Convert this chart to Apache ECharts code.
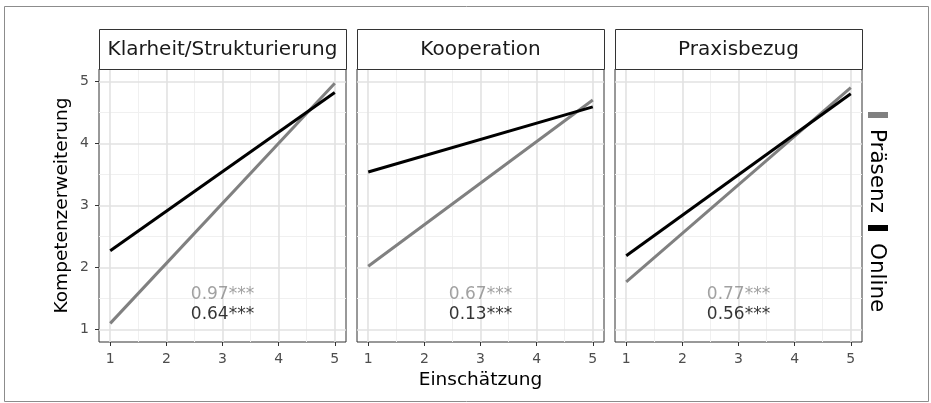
<!DOCTYPE html>
<html>
<head>
<meta charset="utf-8">
<script src="https://cdn.jsdelivr.net/npm/echarts@6/dist/echarts.min.js"></script>
<style>
  html, body { margin: 0; padding: 0; background: #fff; }
  #chart { width: 931px; height: 403px; }
</style>
</head>
<body>
<div id="chart"></div>
<script>
// ---- data ----
const categories = ['Klarheit/Strukturierung', 'Kooperation', 'Praxisbezug'];
const groups = ['Präsenz', 'Online'];
const xEnds = [1, 5];
const praesenzY = [[1.10, 4.97], [2.02, 4.70], [1.77, 4.90]];
const onlineY = [[2.27, 4.82], [3.54, 4.59], [2.19, 4.80]];
const praesenzCoef = ['0.97***', '0.67***', '0.77***'];
const onlineCoef = ['0.64***', '0.13***', '0.56***'];
const xTicks = [1, 2, 3, 4, 5];
const yTicks = [1, 2, 3, 4, 5];
const minorTicks = [1.5, 2.5, 3.5, 4.5];
const xTitle = 'Einschätzung';
const yTitle = 'Kompetenzerweiterung';

// ---- layout / style ----
const FONT = 'DejaVu Sans';
const GRAY = '#808080';
const panelLeft = [99, 357, 615];
const panelW = 247, panelTop = 69, panelH = 273;
const stripTop = 29, stripH = 40;

const grids = [], xAxes = [], yAxes = [], series = [], graphics = [];

categories.forEach((cat, i) => {
  grids.push({
    left: panelLeft[i], top: panelTop, width: panelW, height: panelH,
    show: true, borderColor: '#333', borderWidth: 1, backgroundColor: '#fff'
  });
  xAxes.push({
    type: 'value', gridIndex: i, min: 0.8, max: 5.2,
    axisLine: { show: false },
    axisTick: { show: true, customValues: xTicks, length: 4, lineStyle: { color: '#333', width: 1 } },
    axisLabel: { customValues: xTicks, margin: 10, color: '#4d4d4d', fontSize: 14, fontFamily: FONT },
    splitLine: { show: false },
    name: i === 1 ? xTitle : '', nameLocation: 'middle', nameGap: 28,
    nameTextStyle: { fontSize: 18.5, fontFamily: FONT, color: '#000' }
  });
  yAxes.push({
    type: 'value', gridIndex: i, min: 0.8, max: 5.2,
    axisLine: { show: false },
    axisTick: { show: i === 0, customValues: yTicks, length: 4, lineStyle: { color: '#333', width: 1 } },
    axisLabel: { show: i === 0, customValues: yTicks, margin: 10, color: '#4d4d4d', fontSize: 14, fontFamily: FONT },
    splitLine: { show: false },
    name: i === 0 ? yTitle : '', nameLocation: 'middle', nameGap: 27, nameRotate: 90,
    nameTextStyle: { fontSize: 18.5, fontFamily: FONT, color: '#000' }
  });

  const gridLines = [];
  minorTicks.forEach(v => {
    gridLines.push({ xAxis: v, lineStyle: { color: '#f0f0f0', width: 1, type: 'solid' } });
    gridLines.push({ yAxis: v, lineStyle: { color: '#f0f0f0', width: 1, type: 'solid' } });
  });
  xTicks.forEach(v => gridLines.push({ xAxis: v, lineStyle: { color: '#e2e2e2', width: 1.6, type: 'solid' } }));
  yTicks.forEach(v => gridLines.push({ yAxis: v, lineStyle: { color: '#e2e2e2', width: 1.6, type: 'solid' } }));

  series.push({
    type: 'line', xAxisIndex: i, yAxisIndex: i, data: [], z: 0, silent: true,
    markLine: {
      silent: true, symbol: ['none', 'none'], label: { show: false }, animation: false,
      lineStyle: { type: 'solid' }, emphasis: { disabled: true }, data: gridLines
    }
  });
  series.push({
    name: groups[0], type: 'line', xAxisIndex: i, yAxisIndex: i, z: 5,
    data: xEnds.map((x, j) => [x, praesenzY[i][j]]),
    showSymbol: false, symbol: 'none', lineStyle: { color: GRAY, width: 3 }, itemStyle: { color: GRAY }
  });
  series.push({
    name: groups[1], type: 'line', xAxisIndex: i, yAxisIndex: i, z: 6,
    data: xEnds.map((x, j) => [x, onlineY[i][j]]),
    showSymbol: false, symbol: 'none', lineStyle: { color: '#000', width: 3 }, itemStyle: { color: '#000' }
  });
  series.push({
    type: 'scatter', xAxisIndex: i, yAxisIndex: i, z: 7, symbolSize: 1, silent: true,
    itemStyle: { color: 'rgba(0,0,0,0)' },
    data: [
      { value: [3, 1.56], label: { show: true, position: 'inside', formatter: praesenzCoef[i], color: '#8a8a8a', fontSize: 17, fontFamily: FONT } },
      { value: [3, 1.24], label: { show: true, position: 'inside', formatter: onlineCoef[i], color: '#000', fontSize: 17, fontFamily: FONT } }
    ]
  });

  // strip header
  graphics.push({
    type: 'rect', shape: { x: panelLeft[i] + 0.5, y: stripTop + 0.5, width: panelW, height: stripH },
    style: { fill: '#fff', stroke: '#333', lineWidth: 1 }, z: 10
  });
  graphics.push({
    type: 'text', x: panelLeft[i] + panelW / 2, y: stripTop + stripH / 2 + 0.5, z: 11,
    style: { text: cat, fill: '#1a1a1a', font: '20px "' + FONT + '"', align: 'center', verticalAlign: 'middle' }
  });
});

// outer frame
graphics.push({
  type: 'rect', shape: { x: 4.5, y: 6.5, width: 924, height: 395 },
  style: { fill: null, stroke: '#8c8c8c', lineWidth: 1 }, z: 0
});
// legend (rotated)
const legendColors = [GRAY, '#000'];
const legendKeyY = [112, 225];
const legendTextY = [129, 243];
groups.forEach((g, k) => {
  graphics.push({
    type: 'rect', shape: { x: 868, y: legendKeyY[k], width: 20, height: 6 },
    style: { fill: legendColors[k] }, z: 10
  });
  graphics.push({
    type: 'text', x: 877, y: legendTextY[k], rotation: -Math.PI / 2, z: 10,
    style: { text: g, fill: '#000', font: '21.5px "' + FONT + '"', align: 'left', verticalAlign: 'middle' }
  });
});

const chart = echarts.init(document.getElementById('chart'), null, { renderer: 'canvas' });
chart.setOption({
  animation: false,
  backgroundColor: '#fff',
  grid: grids, xAxis: xAxes, yAxis: yAxes, series: series,
  graphic: graphics
});
</script>
</body>
</html>
